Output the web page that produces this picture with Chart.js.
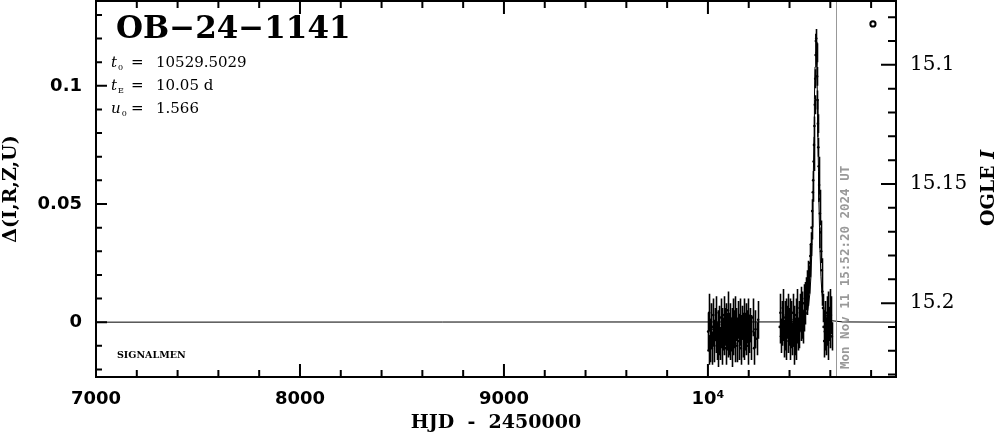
<!DOCTYPE html>
<html>
<head>
<meta charset="utf-8">
<script src="https://cdn.jsdelivr.net/npm/chart.js@4.4.0/dist/chart.umd.min.js"></script>
<style>
  html, body { margin: 0; padding: 0; background: #fff; }
  canvas { display: block; }
</style>
</head>
<body>
<canvas id="lc" width="999" height="434"></canvas>
<script>
// Axis ranges
const X_MIN = 7000, X_MAX = 10922;
const Y_MIN = -0.0232, Y_MAX = 0.1359;
const MAG_MIN = 15.0732, MAG_MAX = 15.231;

// Tick labels
const xMajor = [7000, 8000, 9000, 10000];
const xLabels = ['7000', '8000', '9000', '10⁴'];
const xMinor = [7200, 7400, 7600, 7800, 8200, 8400, 8600, 8800, 9200, 9400, 9600, 9800, 10200, 10400, 10600, 10800];
const yMajor = [0, 0.05, 0.1];
const yLabels = ['0', '0.05', '0.1'];
const yMinor = [-0.02, -0.01, 0.01, 0.02, 0.03, 0.04, 0.06, 0.07, 0.08, 0.09, 0.11, 0.12, 0.13];
const magMajor = [15.1, 15.15, 15.2];
const magLabels = ['15.1', '15.15', '15.2'];
const magMinor = [15.08, 15.09, 15.11, 15.12, 15.13, 15.14, 15.16, 15.17, 15.18, 15.19, 15.21, 15.22, 15.23];

// Photometry [HJD-2450000, delta, sigma]
const season2023 = [
  [10001,-0.004,0.008],[10003,-0.012,0.006],[10006,0.004,0.008],[10008,-0.006,0.007],[10011,-0.009,0.008],
  [10014,0.001,0.007],[10017,-0.003,0.008],[10019,-0.011,0.007],[10023,-0.002,0.008],[10026,0.003,0.007],
  [10029,-0.007,0.008],[10031,-0.010,0.007],[10035,-0.001,0.007],[10038,-0.005,0.008],[10041,0.004,0.007],
  [10044,-0.008,0.008],[10047,-0.012,0.007],[10050,-0.003,0.008],[10053,0.000,0.007],[10056,-0.006,0.008],
  [10060,-0.009,0.007],[10062,0.002,0.008],[10065,-0.004,0.007],[10069,-0.001,0.007],[10071,-0.010,0.008],
  [10074,-0.005,0.007],[10078,0.003,0.008],[10080,-0.007,0.007],[10083,-0.002,0.008],[10087,-0.011,0.007],
  [10089,0.001,0.007],[10092,-0.004,0.008],[10096,-0.008,0.007],[10098,0.005,0.008],[10101,-0.003,0.007],
  [10105,-0.006,0.008],[10107,-0.009,0.007],[10110,0.000,0.008],[10114,-0.005,0.007],[10116,-0.002,0.008],
  [10119,-0.012,0.007],[10123,0.002,0.008],[10125,-0.007,0.007],[10128,-0.003,0.008],[10132,0.004,0.007],
  [10134,-0.009,0.008],[10137,-0.001,0.007],[10141,-0.006,0.008],[10143,-0.010,0.007],[10146,0.001,0.008],
  [10150,-0.004,0.007],[10152,-0.008,0.008],[10155,0.003,0.007],[10159,-0.002,0.008],[10161,-0.011,0.007],
  [10164,-0.005,0.008],[10168,0.000,0.007],[10170,-0.007,0.008],[10173,-0.003,0.007],[10177,0.002,0.008],
  [10179,-0.009,0.007],[10182,-0.004,0.008],[10186,0.001,0.007],[10188,-0.006,0.008],[10191,-0.002,0.007],
  [10195,-0.010,0.008],[10198,0.003,0.007],[10201,-0.005,0.008],[10205,-0.001,0.007],[10209,-0.008,0.008],
  [10213,-0.004,0.007],[10219,0.002,0.008],[10226,-0.011,0.007],[10233,-0.003,0.008],[10240,-0.007,0.007],
  [10246,0.001,0.008]
];
const season2024 = [
  [10352,-0.002,0.007],[10355,0.004,0.008],[10358,-0.006,0.007],[10361,0.001,0.008],[10364,-0.003,0.007],
  [10367,0.006,0.008],[10370,-0.001,0.007],[10373,-0.007,0.008],[10376,0.002,0.007],[10379,-0.004,0.008],
  [10382,0.003,0.007],[10385,-0.008,0.008],[10388,0.000,0.007],[10391,-0.005,0.008],[10394,0.005,0.007],
  [10397,-0.002,0.008],[10400,-0.009,0.007],[10403,0.002,0.008],[10406,-0.004,0.007],[10409,0.001,0.008],
  [10412,-0.007,0.007],[10415,0.004,0.008],[10418,-0.003,0.007],[10421,-0.010,0.008],[10424,0.000,0.007],
  [10427,-0.006,0.008],[10430,0.003,0.007],[10433,-0.008,0.008],[10436,-0.002,0.007],[10439,0.006,0.008],
  [10442,-0.005,0.007],[10445,0.001,0.008],[10448,-0.004,0.007],[10451,0.004,0.008],[10454,-0.001,0.007],
  [10457,0.007,0.008],[10460,0.000,0.007],[10463,0.005,0.008],[10466,-0.002,0.007],[10469,0.008,0.008],
  [10472,0.003,0.007],[10475,0.010,0.007],[10478,0.006,0.007],[10481,0.012,0.007],[10484,0.009,0.006],
  [10487,0.016,0.006],[10490,0.013,0.006],[10493,0.020,0.006],[10496,0.018,0.006],[10499,0.025,0.006]
];
const peak2024 = [
  [10502,0.028,0.005],[10505,0.033,0.005],[10508,0.040,0.005],[10511,0.047,0.005],[10514,0.055,0.004],
  [10516,0.060,0.004],[10518,0.068,0.004],[10520,0.075,0.004],[10522,0.083,0.004],[10524,0.092,0.004],
  [10526,0.103,0.004],[10528,0.113,0.004],[10529,0.119,0.004],[10531,0.120,0.004],[10533,0.114,0.004],
  [10535,0.104,0.004],[10537,0.094,0.004],[10539,0.084,0.004],[10541,0.074,0.004],[10543,0.066,0.004],
  [10545,0.058,0.004],[10547,0.052,0.004],[10549,0.046,0.005],[10552,0.038,0.005],[10555,0.030,0.005],
  [10558,0.022,0.005],[10561,0.013,0.006],[10564,0.006,0.006],[10567,-0.002,0.007],[10570,-0.008,0.007],
  [10573,-0.004,0.008],[10576,0.002,0.007],[10579,-0.006,0.008],[10582,0.004,0.007],[10585,-0.002,0.008],
  [10588,-0.009,0.007],[10591,0.005,0.008],[10594,-0.001,0.007],[10597,0.006,0.008],[10600,-0.004,0.007],
  [10603,0.003,0.008],[10607,-0.006,0.006]
];
const extraPoint = [[10809, 0.1262]];

// Model curve
const model = [
  [7000,0],[10400,0.0001],[10450,0.0006],[10470,0.0013],[10490,0.0051],[10500,0.0122],[10505,0.0194],
  [10510,0.0313],[10512,0.0401],[10515,0.0508],[10517,0.0638],[10520,0.0784],[10522,0.0943],[10525,0.108],
  [10527,0.1186],[10529.5,0.122],[10532,0.1186],[10534,0.108],[10537,0.0943],[10539,0.0784],[10542,0.0638],
  [10544,0.0508],[10547,0.0401],[10549,0.0313],[10554,0.0194],[10559,0.0122],[10569,0.0051],[10589,0.0013],
  [10610,0.0006],[10660,0.0001],[10922,0]
];

const nowHJD = 10628;
const eventName = 'OB\u221224\u22121141';
const params = [['t', '0', '10529.5029'], ['t', 'E', '10.05 d'], ['u', '0', '1.566']];
const stamp = 'Mon Nov 11 15:52:20 2024 UT';
const footer = 'SIGNALMEN';

const allObs = season2023.concat(season2024, peak2024);
const toXY = arr => arr.map(p => ({ x: p[0], y: p[1] }));

function tickSet(ctx, a, scale, vals, len, horizontal) {
    vals.forEach(v => {
        const p = scale.getPixelForValue(v);
        if (horizontal) {
            ctx.moveTo(p, a.bottom); ctx.lineTo(p, a.bottom - len);
            ctx.moveTo(p, a.top); ctx.lineTo(p, a.top + len);
        } else if (scale.id === 'y') {
            ctx.moveTo(a.left, p); ctx.lineTo(a.left + len, p);
        } else {
            ctx.moveTo(a.right, p); ctx.lineTo(a.right - len, p);
        }
    });
}

function noPad(s) {
    s.paddingTop = 0; s.paddingBottom = 0; s.paddingLeft = 0; s.paddingRight = 0;
}

const overlay = {
    id: 'overlay',
    afterDatasetsDraw(chart) {
        const { ctx, chartArea: a, scales: { x, y, y2 } } = chart;
        ctx.save();
        ctx.beginPath(); ctx.rect(a.left, a.top, a.right - a.left, a.bottom - a.top); ctx.clip();
        // error bars
        ctx.strokeStyle = '#000'; ctx.lineWidth = 1.6;
        ctx.beginPath();
        allObs.forEach(([t, d, s]) => {
            const px = Math.round(x.getPixelForValue(t)) + 0.5;
            ctx.moveTo(px, y.getPixelForValue(d - s));
            ctx.lineTo(px, y.getPixelForValue(d + s));
        });
        ctx.stroke();
        // current time marker
        const nx = Math.round(x.getPixelForValue(nowHJD)) + 0.5;
        ctx.strokeStyle = '#999'; ctx.lineWidth = 1;
        ctx.beginPath(); ctx.moveTo(nx, a.top); ctx.lineTo(nx, a.bottom); ctx.stroke();
        ctx.restore();

        // frame + inward ticks
        ctx.save();
        ctx.strokeStyle = '#000'; ctx.lineWidth = 2;
        ctx.strokeRect(a.left, a.top, a.right - a.left, a.bottom - a.top);
        ctx.beginPath();
        tickSet(ctx, a, x, xMajor, 13, true);
        tickSet(ctx, a, x, xMinor, 7, true);
        tickSet(ctx, a, y, yMajor, 11, false);
        tickSet(ctx, a, y, yMinor, 6, false);
        tickSet(ctx, a, y2, magMajor, 15, false);
        tickSet(ctx, a, y2, magMinor, 8, false);
        ctx.stroke();

        // labels
        ctx.fillStyle = '#000';
        ctx.textBaseline = 'alphabetic';
        ctx.textAlign = 'left';
        ctx.font = "bold 31px 'DejaVu Serif'";
        ctx.fillText(eventName, 116, 38);

        params.forEach((p, i) => {
            const bx = 111, by = 67 + i * 23;
            ctx.font = "italic 15px 'DejaVu Serif'";
            ctx.fillText(p[0], bx, by);
            const w = ctx.measureText(p[0]).width;
            ctx.font = "8px 'DejaVu Serif'";
            ctx.fillText(p[1], bx + w + 1, by + 3);
            ctx.font = "15px 'DejaVu Serif'";
            ctx.fillText('=', 131, by);
            ctx.fillText(p[2], 156, by);
        });

        ctx.font = "bold 9.5px 'DejaVu Serif'";
        ctx.fillText(footer, 117, 358);

        // time stamp along the marker
        ctx.save();
        ctx.translate(nx + 9, 369);
        ctx.rotate(-Math.PI / 2);
        ctx.fillStyle = '#999';
        ctx.font = "bold 12.5px 'DejaVu Sans Mono'";
        ctx.textBaseline = 'middle';
        ctx.fillText(stamp, 0, 0);
        ctx.restore();

        // right axis title
        ctx.save();
        ctx.translate(989, 188);
        ctx.rotate(-Math.PI / 2);
        ctx.textBaseline = 'middle';
        ctx.font = "bold 19px 'DejaVu Serif'";
        const w1 = ctx.measureText('OGLE ').width;
        ctx.font = "bold italic 19px 'DejaVu Serif'";
        const w2 = ctx.measureText('I').width;
        const sx = -(w1 + w2) / 2;
        ctx.font = "bold 19px 'DejaVu Serif'";
        ctx.fillText('OGLE ', sx, 0);
        ctx.font = "bold italic 19px 'DejaVu Serif'";
        ctx.fillText('I', sx + w1, 0);
        ctx.restore();
        ctx.restore();
    }
};

new Chart(document.getElementById('lc'), {
    data: {
        datasets: [
            { type: 'line', data: toXY(model), borderColor: '#000', borderWidth: 1, pointRadius: 0, tension: 0, yAxisID: 'y' },
            { type: 'scatter', data: toXY(allObs), backgroundColor: '#000', borderColor: '#000', pointRadius: 1.3, borderWidth: 0, yAxisID: 'y' },
            { type: 'scatter', data: toXY(extraPoint), backgroundColor: '#fff', borderColor: '#000', pointRadius: 2.6, borderWidth: 2, yAxisID: 'y' }
        ]
    },
    options: {
        responsive: false,
        animation: false,
        layout: { autoPadding: false, padding: { top: 1, left: 0, right: 0, bottom: 0 } },
        plugins: { legend: { display: false }, tooltip: { enabled: false } },
        scales: {
            x: {
                type: 'linear', min: X_MIN, max: X_MAX,
                grid: { display: false }, border: { display: false },
                afterBuildTicks: s => { s.ticks = xMajor.map(v => ({ value: v })); },
                afterFit: s => { s.height = 57; noPad(s); },
                ticks: {
                    autoSkip: false, maxRotation: 0, padding: 4, color: '#000',
                    font: { family: 'DejaVu Sans', weight: 'bold', size: 18 },
                    callback: v => xLabels[xMajor.indexOf(v)]
                },
                title: {
                    display: true, text: 'HJD  -  2450000', color: '#000',
                    font: { family: 'DejaVu Serif', weight: 'bold', size: 19 },
                    padding: { top: 0, bottom: 0 }
                }
            },
            y: {
                type: 'linear', position: 'left', min: Y_MIN, max: Y_MAX,
                grid: { display: false }, border: { display: false },
                afterBuildTicks: s => { s.ticks = yMajor.map(v => ({ value: v })); },
                afterFit: s => { s.width = 96; noPad(s); },
                ticks: {
                    padding: 6, color: '#000',
                    font: { family: 'DejaVu Sans', weight: 'bold', size: 18 },
                    callback: v => yLabels[yMajor.indexOf(v)]
                },
                title: {
                    display: true, text: 'Δ(I,R,Z,U)', color: '#000',
                    font: { family: 'DejaVu Serif', weight: 'bold', size: 19 },
                    padding: { top: 0, bottom: 0 }
                }
            },
            y2: {
                type: 'linear', position: 'right', reverse: true, min: MAG_MIN, max: MAG_MAX,
                grid: { display: false }, border: { display: false },
                afterBuildTicks: s => { s.ticks = magMajor.map(v => ({ value: v })); },
                afterFit: s => { s.width = 103; noPad(s); },
                ticks: {
                    padding: 6, color: '#000',
                    font: { family: 'DejaVu Serif', size: 20 },
                    callback: v => magLabels[magMajor.indexOf(v)]
                }
            }
        }
    },
    plugins: [overlay]
});
</script>
</body>
</html>
